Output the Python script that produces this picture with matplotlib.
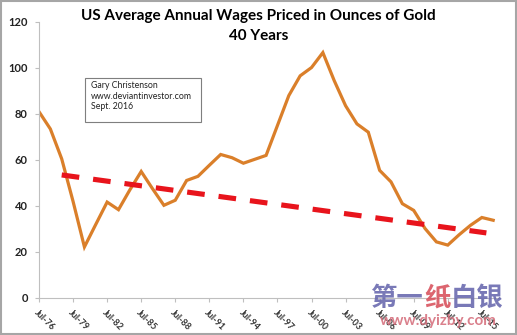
import numpy as np
import matplotlib.pyplot as plt
from matplotlib.patches import Rectangle

# Dados (anual, 1976-2016)
anos = list(range(1976, 2017))
salario_ouro = [81, 73.5, 60.5, 42, 22.2, 32, 41.7, 38.4, 47, 55,
                47.5, 40.3, 42.5, 51.1, 52.9, 57.7, 62.4, 61, 58.6, 60.3,
                62, 75, 88, 96.6, 100.2, 106.7, 94.5, 83.6, 75.7, 72.1,
                55.5, 50.5, 41, 38.1, 30.2, 24.4, 23, 27.5, 31.6, 35,
                33.8]

# Linha de tendência (extremos)
tend_anos = [1978, 2015.4]
tend_valores = [53.5, 28.3]

tick_anos = list(range(1976, 2016, 3))
tick_rotulos = ["Jul-%02d" % (a % 100) for a in tick_anos]

plt.rcParams['font.family'] = ['Lato', 'DejaVu Sans']

fig = plt.figure(figsize=(5.17, 3.35), dpi=100, facecolor='white')
ax = fig.add_axes([39 / 517, 1 - 298 / 335, (500 - 39) / 517, (298 - 22) / 335])

ax.plot(anos, salario_ouro, color='#DA7F2A', lw=2.3, solid_joinstyle='miter')
ax.plot(tend_anos, tend_valores, color='#E8141C', lw=3.7, dashes=(3.44, 2.72),
        solid_capstyle='butt', dash_capstyle='butt')

ax.set_xlim(1976, 2016.6)
ax.set_ylim(0, 120)
ax.set_yticks(range(0, 121, 20))
ax.set_xticks(tick_anos)
ax.set_xticklabels(tick_rotulos, rotation=-45, ha='left', va='top',
                   rotation_mode='anchor', fontsize=6.5, fontweight='bold',
                   color='#333333')
for lbl in ax.get_yticklabels():
    lbl.set_fontsize(8)
    lbl.set_fontweight('bold')
    lbl.set_color('#222222')

for s in ['top', 'right']:
    ax.spines[s].set_visible(False)
for s in ['left', 'bottom']:
    ax.spines[s].set_color('#BFBFBF')
ax.tick_params(axis='both', colors='#BFBFBF', length=3, width=0.8, direction='out')
ax.tick_params(axis='y', labelcolor='#222222', pad=5)
ax.tick_params(axis='x', labelcolor='#333333', pad=4)

# Título
fig.text(0.5, 1 - 16 / 335, "US Average Annual Wages Priced in Ounces of Gold",
         ha='center', va='center', fontsize=11, fontweight='bold')
fig.text(0.5, 1 - 36 / 335, "40 Years", ha='center', va='center',
         fontsize=11, fontweight='bold')

# Caixa de texto
fig.patches.append(Rectangle((85 / 517, 1 - 122 / 335), 116 / 517, 44 / 335,
                             transform=fig.transFigure, facecolor='white',
                             edgecolor='#7F7F7F', lw=0.8))
fig.text(91 / 517, 1 - 81 / 335,
         "Gary Christenson\nwww.deviantinvestor.com\nSept. 2016",
         ha='left', va='top', fontsize=6.3, linespacing=1.25,
         color='#222222')

# Marca d'água
cjk = ['Noto Sans CJK SC', 'DejaVu Sans']
x0 = 370 / 517
fig.text(x0, 1 - 298 / 335, "第一", family=cjk, fontsize=19, fontweight='bold',
         color='#6B6BB0', alpha=0.9, ha='left', va='center')
fig.text(x0 + 54 / 517, 1 - 298 / 335, "纸", family=cjk, fontsize=19,
         fontweight='bold', color='#D9545F', alpha=0.9, ha='left', va='center')
fig.text(x0 + 81 / 517, 1 - 298 / 335, "白银", family=cjk, fontsize=19,
         fontweight='bold', color='#6B6BB0', alpha=0.9, ha='left', va='center')
fig.text(438 / 517, 1 - 321 / 335, "www.dyizby.com", fontsize=11,
         fontweight='bold', color='#D46A78', alpha=0.85, ha='center', va='center')

# Moldura
fig.patches.append(Rectangle((0.001, 0.002), 0.997, 0.995, transform=fig.transFigure,
                             facecolor='none', edgecolor='#A6A6A6', lw=1.5))

fig.savefig('out.png', dpi=100, facecolor='white')
